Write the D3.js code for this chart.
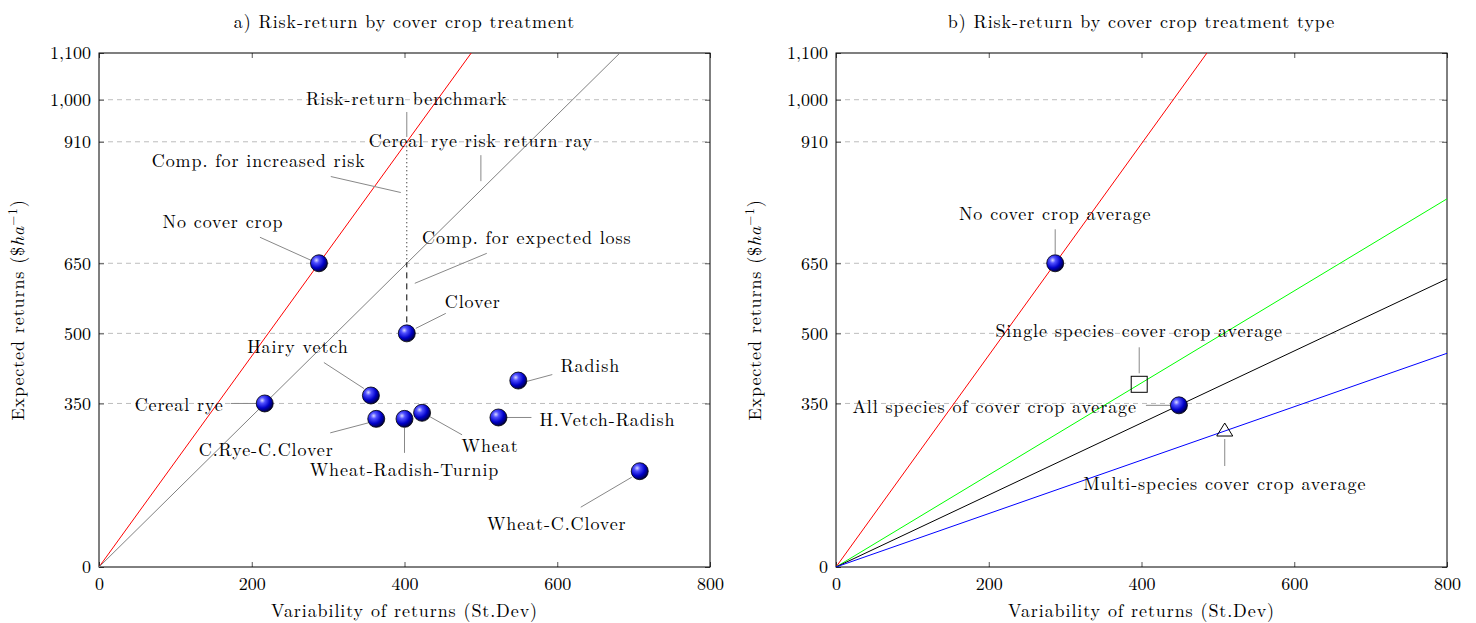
<!DOCTYPE html>
<html>
<head>
<meta charset="utf-8">
<script src="https://cdn.jsdelivr.net/npm/d3@7"></script>
<style>
body { margin: 0; background: #fff; }
svg text { font-family: "Latin Modern Roman", "CMU Serif", "Liberation Serif", serif; fill: #000; }
svg text.lettre { letter-spacing: 0.9px; }
</style>
</head>
<body>
<svg width="1476" height="623"></svg>
<script>
// panel a : each cover crop treatment
let treatments = ["No cover crop", "Cereal rye", "Clover", "Hairy vetch", "C.Rye-C.Clover",
    "Wheat-Radish-Turnip", "Wheat", "Radish", "H.Vetch-Radish", "Wheat-C.Clover"];
let riskA = [288, 217, 403, 356, 363, 400, 423, 549, 523, 708];
let returnA = [650, 350, 500, 367, 317, 317, 330, 399, 320, 205];

// panel b : averages by treatment type
let groups = ["No cover crop average", "Single species cover crop average",
    "All species of cover crop average", "Multi-species cover crop average"];
let riskB = [287, 397, 449, 509];
let returnB = [650, 391, 346, 291];
let markerB = ["ball", "square", "ball", "triangle"];

let xTicks = [0, 200, 400, 600, 800];
let yTicks = [0, 350, 500, 650, 910, 1000, 1100];
let yGrid = [350, 500, 650, 910, 1000];

// label placement (pixels, relative to the point): text dx, dy, anchor, pin from, pin to
let labelA = [
    [-96, -43, "middle", [-59, -26], [-8, -3]],
    [-41, 0, "end", [-34, 0], [-8, 0]],
    [66, -33, "middle", [39, -20], [9, -5]],
    [-73, -50, "middle", [-47, -33], [-7, -7]],
    [-110, 30, "middle", [-46, 14], [-8, 4]],
    [0, 50, "middle", [0, 9], [0, 34]],
    [68, 32, "middle", [8, 4], [40, 22]],
    [72, -16, "middle", [34, -6], [8, 1]],
    [41, 1, "start", [8, 0], [33, 0]],
    [-83, 51, "middle", [-59, 36], [-8, 6]]
];
let labelB = [
    [0, -51, "middle", [0, -34], [0, -9]],
    [0, -55, "middle", [0, -37], [0, -11]],
    [-42, 0, "end", [-33, 0], [-8, 0]],
    [0, 51, "middle", [0, 8], [0, 35]]
];
let rayColorB = ["#ff0000", "#00ff00", "#000000", "#0000ff"];

let svg = d3.select("svg");
let haut = 53, bas = 567, largeur = 611;

// sphere shading of the markers
let grad = svg.append("defs").append("radialGradient")
    .attr("id", "boule")
    .attr("cx", "35%").attr("cy", "32%").attr("r", "70%");
grad.append("stop").attr("offset", "0%").attr("stop-color", "#d8d8ff");
grad.append("stop").attr("offset", "25%").attr("stop-color", "#5050ff");
grad.append("stop").attr("offset", "65%").attr("stop-color", "#0000c8");
grad.append("stop").attr("offset", "100%").attr("stop-color", "#000040");

function panneau(gauche, titre, idClip) {
    let x = d3.scaleLinear().domain([0, 800]).range([gauche, gauche + largeur]);
    let y = d3.scaleLinear().domain([0, 1100]).range([bas, haut]);
    let g = svg.append("g");

    g.append("clipPath").attr("id", idClip)
        .append("rect")
        .attr("x", gauche).attr("y", haut)
        .attr("width", largeur).attr("height", bas - haut);

    // grille horizontale
    g.selectAll(".grille").data(yGrid).enter()
        .append("line")
        .attr("x1", gauche).attr("x2", gauche + largeur)
        .attr("y1", d => y(d)).attr("y2", d => y(d))
        .attr("stroke", "#bdbdbd").attr("stroke-width", 1)
        .attr("stroke-dasharray", "5,4");

    // axes (ticks inside, both sides)
    g.append("g").attr("transform", `translate(0,${bas})`)
        .call(d3.axisBottom(x).tickValues(xTicks).tickSize(-5).tickPadding(10).tickFormat(d3.format("d")));
    g.append("g").attr("transform", `translate(0,${haut})`)
        .call(d3.axisTop(x).tickValues(xTicks).tickSize(-5).tickFormat(""));
    g.append("g").attr("transform", `translate(${gauche},0)`)
        .call(d3.axisLeft(y).tickValues(yTicks).tickSize(-5).tickPadding(8).tickFormat(d3.format(",")));
    g.append("g").attr("transform", `translate(${gauche + largeur},0)`)
        .call(d3.axisRight(y).tickValues(yTicks).tickSize(-5).tickFormat(""));
    g.selectAll(".domain").remove();
    g.selectAll(".tick line").attr("stroke", "#555");
    g.selectAll(".tick text").style("font-size", "18px").attr("fill", "#000");

    g.append("rect")
        .attr("x", gauche).attr("y", haut)
        .attr("width", largeur).attr("height", bas - haut)
        .attr("fill", "none").attr("stroke", "#000").attr("stroke-width", 1);

    // titres
    g.append("text").attr("class", "lettre")
        .attr("x", gauche + largeur / 2).attr("y", 28)
        .attr("text-anchor", "middle").style("font-size", "18px").text(titre);
    g.append("text").attr("class", "lettre")
        .attr("x", gauche + largeur / 2).attr("y", 617)
        .attr("text-anchor", "middle").style("font-size", "18px")
        .text("Variability of returns (St.Dev)");
    let ty = g.append("text").attr("class", "lettre")
        .attr("transform", `translate(${gauche - 75},${(haut + bas) / 2}) rotate(-90)`)
        .attr("text-anchor", "middle").style("font-size", "18px");
    ty.append("tspan").text("Expected returns ($");
    ty.append("tspan").style("font-style", "italic").text("ha");
    ty.append("tspan").attr("dy", -7).style("font-size", "13px").text("−1");
    ty.append("tspan").attr("dy", 7).text(")");

    return {x, y, g};
}

function rayon(p, risque, rendement, couleur, idClip) {
    // ray from origin through the point, clipped by the frame
    p.g.append("line")
        .attr("clip-path", `url(#${idClip})`)
        .attr("x1", p.x(0)).attr("y1", p.y(0))
        .attr("x2", p.x(800)).attr("y2", p.y(800 * rendement / risque))
        .attr("stroke", couleur).attr("stroke-width", 1);
}

function boules(p, xs, ys) {
    p.g.selectAll(null).data(xs).enter()
        .append("circle")
        .attr("cx", d => p.x(d))
        .attr("cy", (d, i) => p.y(ys[i]))
        .attr("r", 8.5)
        .attr("fill", "url(#boule)")
        .attr("stroke", "#000").attr("stroke-width", 0.8);
}

function etiquettes(p, noms, xs, ys, places) {
    noms.forEach((nom, i) => {
        let px = p.x(xs[i]), py = p.y(ys[i]), l = places[i];
        p.g.append("line")
            .attr("x1", px + l[3][0]).attr("y1", py + l[3][1])
            .attr("x2", px + l[4][0]).attr("y2", py + l[4][1])
            .attr("stroke", "#888").attr("stroke-width", 1);
        p.g.append("text").attr("class", "lettre")
            .attr("x", px + l[0]).attr("y", py + l[1])
            .attr("text-anchor", l[2]).attr("dominant-baseline", "central")
            .style("font-size", "18px").text(nom);
    });
}

// ---------- panel a ----------
let a = panneau(99, "a) Risk-return by cover crop treatment", "clipA");
rayon(a, riskA[0], returnA[0], "#ff0000", "clipA");
rayon(a, riskA[1], returnA[1], "#808080", "clipA");

// compensation segments at the clover risk level
let risqueRef = riskA[2];
let rayRye = risqueRef * returnA[1] / riskA[1];
let rayNoCover = risqueRef * returnA[0] / riskA[0];
a.g.append("line")
    .attr("x1", a.x(risqueRef)).attr("x2", a.x(risqueRef))
    .attr("y1", a.y(returnA[2])).attr("y2", a.y(rayRye))
    .attr("stroke", "#000").attr("stroke-dasharray", "6,5");
a.g.append("line")
    .attr("x1", a.x(risqueRef)).attr("x2", a.x(risqueRef))
    .attr("y1", a.y(rayRye)).attr("y2", a.y(rayNoCover))
    .attr("stroke", "#000").attr("stroke-dasharray", "1,3");

// annotations with no marker
let notes = [
    ["Risk-return benchmark", risqueRef, rayNoCover, [0, -44, "middle", [0, -30], [0, -5]]],
    ["Cereal rye risk return ray", 500, 500 * returnA[1] / riskA[1], [0, -51, "middle", [0, -35], [0, -9]]],
    ["Comp. for increased risk", risqueRef, 780, [-148, -43, "middle", [-76, -26], [-6, -10]]],
    ["Comp. for expected loss", risqueRef, 575, [120, -62, "middle", [80, -45], [8, -15]]]
];
etiquettes(a, notes.map(d => d[0]), notes.map(d => d[1]), notes.map(d => d[2]), notes.map(d => d[3]));
etiquettes(a, treatments, riskA, returnA, labelA);
boules(a, riskA, returnA);

// ---------- panel b ----------
let b = panneau(836, "b) Risk-return by cover crop treatment type", "clipB");
groups.forEach((d, i) => rayon(b, riskB[i], returnB[i], rayColorB[i], "clipB"));
etiquettes(b, groups, riskB, returnB, labelB);

let ballIdx = markerB.map((m, i) => i).filter(i => markerB[i] === "ball");
boules(b, ballIdx.map(i => riskB[i]), ballIdx.map(i => returnB[i]));
markerB.forEach((m, i) => {
    let px = b.x(riskB[i]), py = b.y(returnB[i]);
    if (m === "square") {
        b.g.append("rect")
            .attr("x", px - 8).attr("y", py - 8).attr("width", 16).attr("height", 16)
            .attr("fill", "none").attr("stroke", "#000").attr("stroke-width", 1);
    } else if (m === "triangle") {
        b.g.append("path")
            .attr("d", `M${px},${py - 8} L${px + 8},${py + 5} L${px - 8},${py + 5} Z`)
            .attr("fill", "none").attr("stroke", "#000").attr("stroke-width", 1);
    }
});
</script>
</body>
</html>
